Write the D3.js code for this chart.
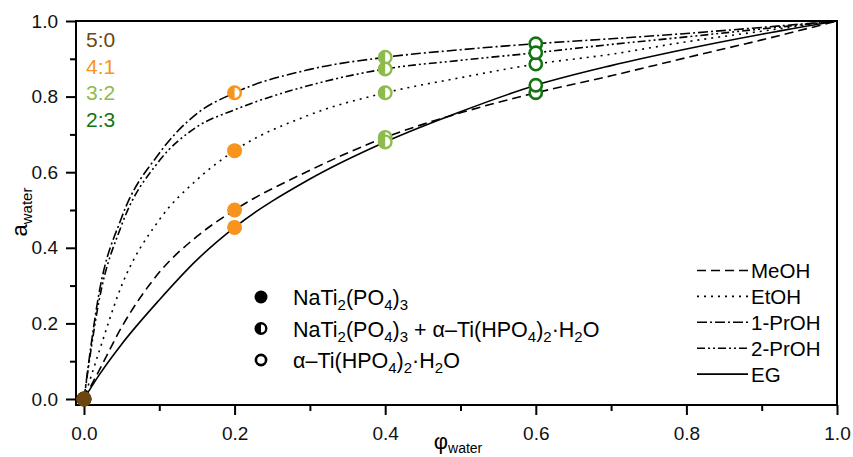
<!DOCTYPE html>
<html>
<head>
<meta charset="utf-8">
<script src="https://cdn.jsdelivr.net/npm/d3@7"></script>
<style>
  body { margin: 0; background: #fff; }
  svg { display: block; font-family: "Liberation Sans", Arial, sans-serif; }
</style>
</head>
<body>
<div id="chart"></div>
<script>
// water volume fraction grid the curves were read on
const curveX = [0, 0.02, 0.05, 0.1, 0.15, 0.2, 0.3, 0.4, 0.5, 0.6, 0.7, 0.8, 0.9, 1.0];
const curveMeOH = [0, 0.075, 0.19, 0.335, 0.43, 0.5, 0.605, 0.692, 0.757, 0.81, 0.855, 0.903, 0.95, 1];
const curveEtOH = [0, 0.125, 0.3, 0.474, 0.58, 0.657, 0.752, 0.81, 0.85, 0.886, 0.912, 0.945, 0.973, 1];
const curve1PrOH = [0, 0.28, 0.48, 0.65, 0.755, 0.81, 0.872, 0.904, 0.924, 0.94, 0.953, 0.967, 0.983, 1];
const curve2PrOH = [0, 0.26, 0.46, 0.63, 0.72, 0.765, 0.83, 0.873, 0.896, 0.916, 0.938, 0.958, 0.979, 1];
const curveEG = [0, 0.063, 0.145, 0.262, 0.368, 0.454, 0.582, 0.68, 0.76, 0.83, 0.882, 0.926, 0.965, 1];

// measured samples (null = not measured)
const sampleX = [0, 0.2, 0.4, 0.6];
const sampleMeOH = [0, 0.5, 0.692, 0.81];
const sampleEtOH = [0, 0.657, 0.81, 0.886];
const sample1PrOH = [0, 0.81, 0.904, 0.94];
const sample2PrOH = [null, null, 0.873, 0.916];
const sampleEG = [0, 0.454, 0.68, 0.83];

// phase found at each sample: full / half / open
const phaseMeOH = ['full', 'full', 'half', 'open'];
const phaseEtOH = ['full', 'full', 'half', 'open'];
const phase1PrOH = ['full', 'half', 'half', 'open'];
const phase2PrOH = ['full', 'half', 'half', 'open'];
const phaseEG = ['full', 'full', 'half', 'open'];

const ratioLabels = ['5:0', '4:1', '3:2', '2:3'];
const ratioColors = ['#6b4611', '#f7941d', '#8dbb4c', '#127412'];

const solventNames = ['MeOH', 'EtOH', '1-PrOH', '2-PrOH', 'EG'];
const solventDash = ['9,5', '2,5', '10,3,2,3', '8,3,2,3,2,3', null];

const xTicks = [0, 0.2, 0.4, 0.6, 0.8, 1.0];
const yTicks = [0, 0.2, 0.4, 0.6, 0.8, 1.0];

const width = 853, height = 457;
const svg = d3.select('#chart').append('svg')
  .attr('width', width)
  .attr('height', height);

// scales (axis lines sit slightly outside 0)
const x = d3.scaleLinear().domain([-0.0106, 1]).range([76, 837]);
const y = d3.scaleLinear().domain([-0.0159, 1]).range([405, 21]);

const plotL = x.range()[0], plotR = x.range()[1];
const plotT = y.range()[1], plotB = y.range()[0];

// frame
svg.append('rect')
  .attr('x', plotL).attr('y', plotT)
  .attr('width', plotR - plotL).attr('height', plotB - plotT)
  .attr('fill', 'none').attr('stroke', '#000').attr('stroke-width', 2);

// minor ticks
const minor = d3.range(0.1, 1, 0.2);
const xMinor = d3.axisBottom(x).tickValues(minor).tickSize(6).tickFormat('');
const yMinor = d3.axisLeft(y).tickValues(minor).tickSize(6).tickFormat('');
svg.append('g').attr('transform', `translate(0,${plotB})`).call(xMinor);
svg.append('g').attr('transform', `translate(${plotL},0)`).call(yMinor);

// major axes
const xAxis = d3.axisBottom(x).tickValues(xTicks).tickSize(10).tickPadding(12)
  .tickFormat(d3.format('.1f'));
const yAxis = d3.axisLeft(y).tickValues(yTicks).tickSize(10).tickPadding(8)
  .tickFormat(d3.format('.1f'));
svg.append('g').attr('class', 'x-axis').attr('transform', `translate(0,${plotB})`).call(xAxis);
svg.append('g').attr('class', 'y-axis').attr('transform', `translate(${plotL},0)`).call(yAxis);

svg.selectAll('.domain').remove();
svg.selectAll('.tick line').attr('stroke', '#000').attr('stroke-width', 2);
svg.selectAll('.tick text')
  .attr('fill', '#111')
  .style('font-size', '19px')
  .style('font-family', '"Liberation Sans", Arial, sans-serif');

// axis titles
const xTitle = svg.append('text')
  .attr('x', 458).attr('y', 449)
  .attr('text-anchor', 'middle')
  .style('font-size', '22px');
xTitle.append('tspan').text('φ');
xTitle.append('tspan').attr('dy', 4).style('font-size', '14px').text('water');

const yTitle = svg.append('text')
  .attr('transform', 'translate(27,212) rotate(-90)')
  .attr('text-anchor', 'middle')
  .style('font-size', '22px');
yTitle.append('tspan').text('a');
yTitle.append('tspan').attr('dy', 5).style('font-size', '15px').text('water');

// curves
const curves = [curveMeOH, curveEtOH, curve1PrOH, curve2PrOH, curveEG];
const line = d3.line()
  .x(d => x(d[0]))
  .y(d => y(d[1]))
  .curve(d3.curveMonotoneX);

curves.forEach((vals, i) => {
  svg.append('path')
    .datum(curveX.map((cx, j) => [cx, vals[j]]))
    .attr('fill', 'none')
    .attr('stroke', '#000')
    .attr('stroke-width', 1.6)
    .attr('stroke-dasharray', solventDash[i])
    .attr('d', line);
});

// markers
function drawMarker(g, cx, cy, phase, color, r) {
  if (phase === 'full') {
    g.append('circle').attr('cx', cx).attr('cy', cy).attr('r', r).attr('fill', color);
  } else if (phase === 'half') {
    g.append('circle').attr('cx', cx).attr('cy', cy).attr('r', r - 1.2)
      .attr('fill', '#fff').attr('stroke', color).attr('stroke-width', 2.4);
    g.append('path')
      .attr('transform', `translate(${cx},${cy})`)
      .attr('d', d3.arc()({ innerRadius: 0, outerRadius: r - 1, startAngle: Math.PI, endAngle: 2 * Math.PI }))
      .attr('fill', color);
  } else {
    g.append('circle').attr('cx', cx).attr('cy', cy).attr('r', r - 1.4)
      .attr('fill', '#fff').attr('stroke', color).attr('stroke-width', 2.6);
  }
}

const markerGroup = svg.append('g');
const samples = [sampleMeOH, sampleEtOH, sample1PrOH, sample2PrOH, sampleEG];
const phases = [phaseMeOH, phaseEtOH, phase1PrOH, phase2PrOH, phaseEG];
// draw column by column so later columns sit on top
sampleX.forEach((sx, j) => {
  samples.forEach((s, i) => {
    if (s[j] === null) return;
    drawMarker(markerGroup, x(sx), y(s[j]), phases[i][j], ratioColors[j], 7.5);
  });
});

// ratio labels
ratioLabels.forEach((t, i) => {
  svg.append('text')
    .attr('x', 86).attr('y', 47 + i * 26.7)
    .attr('fill', ratioColors[i])
    .style('font-size', '21px')
    .text(t);
});

// phase legend
const phaseLegend = [
  { phase: 'full', parts: [['NaTi'], ['2', 'sub'], ['(PO'], ['4', 'sub'], [')'], ['3', 'sub']] },
  { phase: 'half', parts: [['NaTi'], ['2', 'sub'], ['(PO'], ['4', 'sub'], [')'], ['3', 'sub'], [' + α–Ti(HPO'], ['4', 'sub'], [')'], ['2', 'sub'], ['·H'], ['2', 'sub'], ['O']] },
  { phase: 'open', parts: [['α–Ti(HPO'], ['4', 'sub'], [')'], ['2', 'sub'], ['·H'], ['2', 'sub'], ['O']] }
];
phaseLegend.forEach((item, i) => {
  const cy = 297 + i * 31.5;
  drawMarker(svg, 261, cy, item.phase, '#000', 6.5);
  const t = svg.append('text')
    .attr('x', 293).attr('y', cy + 8)
    .style('font-size', '21.5px');
  let shifted = false;
  item.parts.forEach(p => {
    const span = t.append('tspan').text(p[0]);
    if (p[1] === 'sub') {
      span.attr('dy', 5).style('font-size', '15px');
      shifted = true;
    } else if (shifted) {
      span.attr('dy', -5);
      shifted = false;
    }
  });
});

// line style legend
solventNames.forEach((name, i) => {
  const cy = 270.5 + i * 25.9;
  svg.append('line')
    .attr('x1', 697).attr('x2', 748)
    .attr('y1', cy).attr('y2', cy)
    .attr('stroke', '#000').attr('stroke-width', 1.6)
    .attr('stroke-dasharray', solventDash[i]);
  svg.append('text')
    .attr('x', 751).attr('y', cy + 7.5)
    .style('font-size', '20.5px')
    .text(name);
});
</script>
</body>
</html>
